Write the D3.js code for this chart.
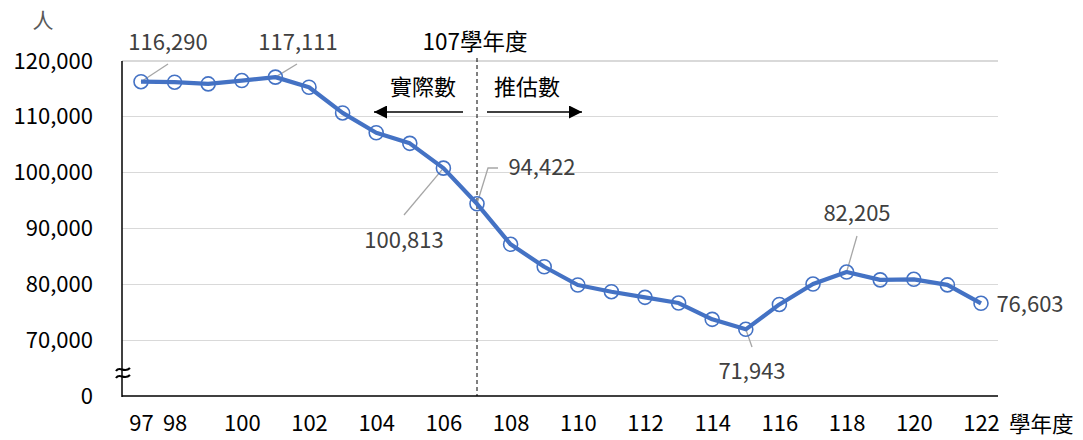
<!DOCTYPE html>
<html lang="zh-Hant">
<head>
<meta charset="UTF-8">
<title>學生數推估</title>
<script src="https://cdn.jsdelivr.net/npm/d3@7/dist/d3.min.js"></script>
<style>
	body{ margin:0; background:#fff; }
	text{ font-family:"Noto Sans CJK TC","Noto Sans",sans-serif; }
	.tick text{ font-size:22px; fill:#000; }
	.grid line{ stroke:#d9d9d9; stroke-width:1.3; shape-rendering:crispEdges; }
	.lbl{ font-size:22px; fill:#404040; }
	.lead{ stroke:#a6a6a6; stroke-width:1.3; fill:none; }
</style>
</head>
<body>
<div id="main"></div>
<script>
var years = d3.range(97, 123);
var students = [116290, 116200, 115900, 116500, 117111, 115300, 110700, 107150, 105250, 100813,
	94422, 87170, 83150, 79880, 78680, 77670, 76650, 73730, 71943, 76400,
	80050, 82205, 80800, 80900, 79900, 76603];
var yTicks = [60000, 70000, 80000, 90000, 100000, 110000, 120000];
var xTicks = [97, 98, 100, 102, 104, 106, 108, 110, 112, 114, 116, 118, 120, 122];
// labelled points and where their labels sit
var callouts = [
	{year:97,  text:"116,290", lx:168, ly:42},
	{year:101, text:"117,111", lx:298, ly:42},
	{year:106, text:"100,813", lx:404, ly:240},
	{year:107, text:"94,422",  lx:542, ly:167},
	{year:115, text:"71,943",  lx:752, ly:371},
	{year:118, text:"82,205",  lx:857, ly:213},
	{year:122, text:"76,603",  lx:1030, ly:304}
];

var width = 1083, height = 440;
var svg = d3.select("#main").append("svg")
	.attr("width", width).attr("height", height);

var x = d3.scaleLinear().domain([97, 122]).range([141, 981]);
var y = d3.scaleLinear().domain([60000, 120000]).range([396, 61]);
var left = 122, right = 998;

// gridlines
svg.append("g").attr("class", "grid")
	.selectAll("line").data(yTicks.slice(1)).enter().append("line")
	.attr("x1", left).attr("x2", right)
	.attr("y1", function(d){ return y(d); }).attr("y2", function(d){ return y(d); });

// y axis (0 sits where 60,000 would be: broken axis)
var yAx = d3.axisLeft(y).tickValues(yTicks).tickSize(0).tickPadding(29)
	.tickFormat(function(d){ return d == 60000 ? "0" : d3.format(",")(d); });
var gy = svg.append("g").attr("transform", "translate(" + left + ",0)").call(yAx);
gy.select(".domain").remove();

// x axis
var xAx = d3.axisBottom(x).tickValues(xTicks).tickSize(0).tickPadding(19)
	.tickFormat(d3.format("d"));
var gx = svg.append("g").attr("transform", "translate(0,396)").call(xAx);
gx.select(".domain").remove();

// axis lines
svg.append("line").attr("x1", left).attr("x2", left).attr("y1", 61).attr("y2", 397)
	.attr("stroke", "#000").attr("stroke-width", 1.5);
svg.append("line").attr("x1", left).attr("x2", right).attr("y1", 396).attr("y2", 396)
	.attr("stroke", "#000").attr("stroke-width", 1.5);

// break mark
[369, 376].forEach(function(yy){
	svg.append("path")
		.attr("d", "M116," + (yy+2) + " C120," + (yy-4) + " 124," + (yy+5) + " 130," + (yy-1))
		.attr("fill", "none").attr("stroke", "#000").attr("stroke-width", 2.2);
});

// axis titles
svg.append("text").attr("x", 43).attr("y", 28).attr("text-anchor", "middle")
	.style("font-size", "21px").attr("fill", "#595959").text("人");
svg.append("text").attr("x", 1009).attr("y", 432)
	.style("font-size", "21.5px").attr("fill", "#000").text("學年度");

// 107 divider
svg.append("line").attr("x1", x(107)).attr("x2", x(107)).attr("y1", 58).attr("y2", 396)
	.attr("stroke", "#000").attr("stroke-width", 1).attr("stroke-dasharray", "4,3");
svg.append("text").attr("x", 475).attr("y", 50).attr("text-anchor", "middle")
	.style("font-size", "22.5px").attr("fill", "#000").text("107學年度");
svg.append("text").attr("x", 423).attr("y", 95).attr("text-anchor", "middle")
	.style("font-size", "22px").attr("fill", "#000").text("實際數");
svg.append("text").attr("x", 527).attr("y", 95).attr("text-anchor", "middle")
	.style("font-size", "22px").attr("fill", "#000").text("推估數");

svg.append("defs").append("marker").attr("id", "head")
	.attr("viewBox", "0 0 10 10").attr("refX", 10).attr("refY", 5)
	.attr("markerUnits", "userSpaceOnUse")
	.attr("markerWidth", 14).attr("markerHeight", 13).attr("orient", "auto-start-reverse")
	.append("path").attr("d", "M0,0 L10,5 L0,10 Z").attr("fill", "#000");
svg.append("line").attr("x1", 463).attr("x2", 374).attr("y1", 112).attr("y2", 112)
	.attr("stroke", "#000").attr("stroke-width", 1.6).attr("marker-end", "url(#head)");
svg.append("line").attr("x1", 487).attr("x2", 582).attr("y1", 112).attr("y2", 112)
	.attr("stroke", "#000").attr("stroke-width", 1.6).attr("marker-end", "url(#head)");

// leader lines
var pt = function(yr){ return [x(yr), y(students[yr - 97])]; };
var leads = {
	97:  function(p){ return [p, [168, 64]]; },
	101: function(p){ return [p, [297, 64]]; },
	106: function(p){ return [p, [404, 215]]; },
	107: function(p){ return [p, [488, 168], [498, 168]]; },
	115: function(p){ return [p, [752, 347]]; },
	118: function(p){ return [p, [857, 236]]; }
};
callouts.forEach(function(c){
	if(leads[c.year]){
		svg.append("path").attr("class", "lead").attr("d", d3.line()(leads[c.year](pt(c.year))));
	}
	svg.append("text").attr("class", "lbl").attr("x", c.lx).attr("y", c.ly + 8)
		.attr("text-anchor", "middle").text(c.text);
});

// series
var data = years.map(function(d, i){ return {year:d, v:students[i]}; });
svg.append("path").datum(data)
	.attr("fill", "none").attr("stroke", "#4472c4").attr("stroke-width", 4.2)
	.attr("stroke-linejoin", "round")
	.attr("d", d3.line().x(function(d){ return x(d.year); }).y(function(d){ return y(d.v); }));
svg.selectAll("circle.pt").data(data).enter().append("circle")
	.attr("class", "pt")
	.attr("cx", function(d){ return x(d.year); })
	.attr("cy", function(d){ return y(d.v); })
	.attr("r", 7)
	.attr("fill", "none").attr("stroke", "#4472c4").attr("stroke-width", 1.6);
</script>
</body>
</html>
